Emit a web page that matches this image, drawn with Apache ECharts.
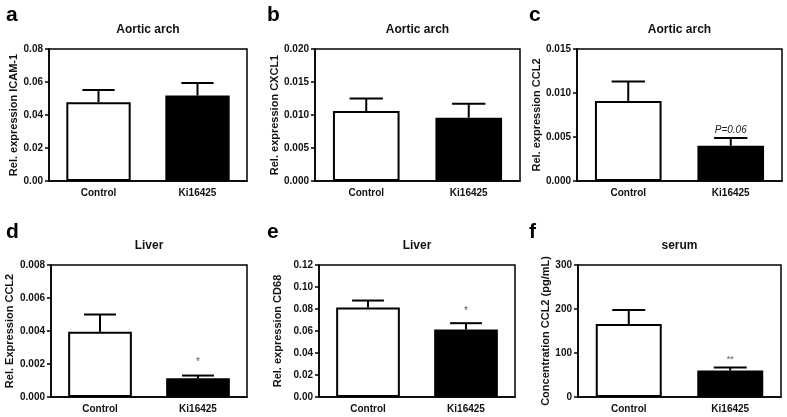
<!DOCTYPE html>
<html>
<head>
<meta charset="utf-8">
<script src="https://cdn.jsdelivr.net/npm/echarts@6/dist/echarts.min.js"></script>
<style>
html,body{margin:0;padding:0;background:#fff;}
#chart{width:787px;height:417px;}
</style>
</head>
<body>
<div id="chart"></div>
<script>
// ---- data ----
const categories = ['Control', 'Ki16425'];

const aMean = [0.0478, 0.0518];
const aSem  = [0.0074, 0.0076];
const bMean = [0.0106, 0.0096];
const bSem  = [0.0019, 0.0021];
const cMean = [0.0091, 0.0040];
const cSem  = [0.0022, 0.0009];
const dMean = [0.00395, 0.00114];
const dSem  = [0.00105, 0.00016];
const eMean = [0.0814, 0.0613];
const eSem  = [0.0063, 0.0058];
const fMean = [166, 60];
const fSem  = [32, 7];

const aNotes = ['', ''];
const bNotes = ['', ''];
const cNotes = ['', 'P=0.06'];
const dNotes = ['', '*'];
const eNotes = ['', '*'];
const fNotes = ['', '**'];

const panelLetters = ['a', 'b', 'c', 'd', 'e', 'f'];
const panelTitles = ['Aortic arch', 'Aortic arch', 'Aortic arch', 'Liver', 'Liver', 'serum'];
const yNames = ['Rel. expression ICAM-1', 'Rel. expression CXCL1', 'Rel. expression CCL2',
                'Rel. Expression CCL2', 'Rel. expression CD68', 'Concentration CCL2 (pg/mL)'];
const yMax = [0.08, 0.020, 0.015, 0.008, 0.12, 300];
const yStep = [0.02, 0.005, 0.005, 0.002, 0.02, 100];
const yDecimals = [2, 3, 3, 3, 2, 0];

const means = [aMean, bMean, cMean, dMean, eMean, fMean];
const sems = [aSem, bSem, cSem, dSem, eSem, fSem];
const notes = [aNotes, bNotes, cNotes, dNotes, eNotes, fNotes];

// ---- layout / style ----
const FONT = '"Liberation Sans", Arial, Helvetica, sans-serif';
const grids = [
  {left: 49,  top: 49,  width: 198, height: 132},
  {left: 315, top: 49,  width: 205, height: 132},
  {left: 577, top: 49,  width: 205, height: 132},
  {left: 51,  top: 265, width: 196, height: 132},
  {left: 319, top: 265, width: 196, height: 132},
  {left: 578, top: 265, width: 203, height: 132}
];
const nameGaps = [28, 32, 32, 36, 36, 25];
const letterPos = [[6, 5], [267, 5], [529, 5], [6, 222], [267, 222], [529, 222]];
const noteStyle = [
  {size: 9, gap: 4, italic: false},
  {size: 9, gap: 4, italic: false},
  {size: 10, gap: 3, italic: true},
  {size: 10, gap: 8, italic: false},
  {size: 10, gap: 7, italic: false},
  {size: 9, gap: 4, italic: false}
];
const BAR_W = 0.65;

const option = {
  animation: false,
  backgroundColor: '#fff',
  textStyle: {fontFamily: FONT},
  title: [],
  grid: [],
  xAxis: [],
  yAxis: [],
  series: []
};

grids.forEach((g, i) => {
  option.grid.push(Object.assign({show: true, borderColor: '#000', borderWidth: 1.5, backgroundColor: 'transparent', containLabel: false}, g));
  option.title.push({
    text: panelTitles[i], left: g.left + g.width / 2, top: g.top - 25, textAlign: 'center',
    padding: 0,
    textStyle: {fontFamily: FONT, fontSize: 12, fontWeight: 'bold', color: '#111'}
  });
  option.title.push({
    text: panelLetters[i], left: letterPos[i][0], top: letterPos[i][1], padding: 0,
    textStyle: {fontFamily: FONT, fontSize: 21, fontWeight: 'bold', color: '#000'}
  });
  option.xAxis.push({
    type: 'category', gridIndex: i, data: categories,
    axisLine: {lineStyle: {color: '#000', width: 1.5}},
    axisTick: {alignWithLabel: true, length: 4, lineStyle: {color: '#000', width: 1.5}},
    axisLabel: {fontFamily: FONT, fontSize: 10, fontWeight: 'bold', color: '#111', margin: 7},
    splitLine: {show: false}
  });
  const dec = yDecimals[i];
  option.yAxis.push({
    type: 'value', gridIndex: i, min: 0, max: yMax[i], interval: yStep[i],
    name: yNames[i], nameLocation: 'middle', nameGap: nameGaps[i], nameRotate: 90,
    nameTextStyle: {fontFamily: FONT, fontSize: 11, fontWeight: 'bold', color: '#111'},
    axisLine: {show: true, lineStyle: {color: '#000', width: 1.5}},
    axisTick: {show: true, inside: false, length: 4, lineStyle: {color: '#000', width: 1.5}},
    axisLabel: {fontFamily: FONT, fontSize: 10, fontWeight: 'bold', color: '#111', margin: 6,
      formatter: v => v.toFixed(dec)},
    splitLine: {show: false}
  });
  option.series.push({
    type: 'bar', xAxisIndex: i, yAxisIndex: i, barWidth: (BAR_W * 100) + '%',
    data: means[i].map((v, j) => ({
      value: v,
      itemStyle: {color: j === 0 ? '#fff' : '#000', borderColor: '#000', borderWidth: 2}
    })),
    z: 2
  });
  const ns = noteStyle[i];
  option.series.push({
    type: 'custom', xAxisIndex: i, yAxisIndex: i, z: 3,
    data: means[i].map((m, j) => [j, m, m + sems[i][j], notes[i][j]]),
    renderItem: (params, api) => {
      const x = api.value(0), m = api.value(1), u = api.value(2);
      const note = notes[i][params.dataIndex];
      const p0 = api.coord([x, m]);
      const p1 = api.coord([x, u]);
      const bw = api.size([1, 0])[0] * BAR_W;
      const cap = bw * 0.5;
      const children = [
        {type: 'line', shape: {x1: p0[0], y1: p0[1], x2: p1[0], y2: p1[1]}, style: {stroke: '#000', lineWidth: 2}},
        {type: 'line', shape: {x1: p1[0] - cap / 2, y1: p1[1], x2: p1[0] + cap / 2, y2: p1[1]}, style: {stroke: '#000', lineWidth: 2}}
      ];
      if (note) {
        children.push({
          type: 'text', x: p1[0], y: p1[1] - ns.gap,
          style: {text: note, align: 'center', verticalAlign: 'bottom', fill: ns.italic ? '#222' : '#555',
            font: (ns.italic ? 'italic ' : '') + ns.size + 'px ' + FONT}
        });
      }
      return {type: 'group', children};
    }
  });
});

const chart = echarts.init(document.getElementById('chart'), null, {renderer: 'canvas'});
chart.setOption(option);
</script>
</body>
</html>
